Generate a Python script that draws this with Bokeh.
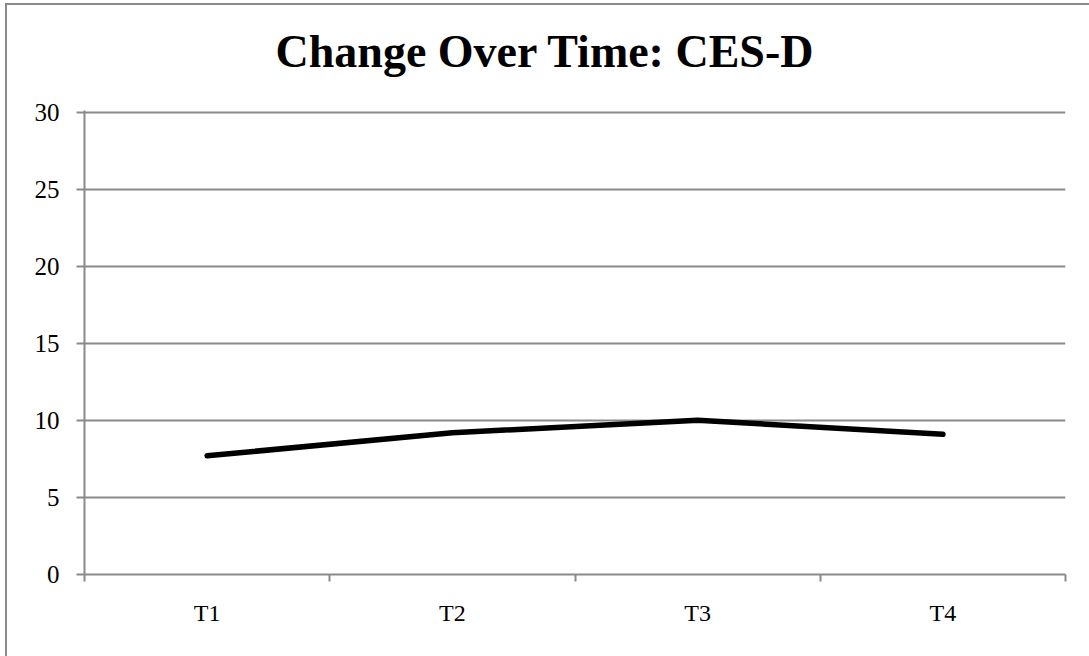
from bokeh.plotting import figure
from bokeh.models import FixedTicker, Range1d, Title
from bokeh.embed import file_html
from bokeh.resources import INLINE

# CES-D mean scores at each time point
categories = ["T1", "T2", "T3", "T4"]
scores = [7.7, 9.2, 10.0, 9.1]
y_ticks = [0, 5, 10, 15, 20, 25, 30]
chart_title = "Change Over Time: CES-D"

positions = [i + 1 for i in range(len(categories))]
grey = "#8a8a8a"
serif = "Liberation Serif"

p = figure(
    width=1084, height=653,
    output_backend="svg", toolbar_location=None,
    x_range=Range1d(0.5, len(categories) + 0.5),
    y_range=Range1d(0, 30.1),
    min_border_left=77, min_border_right=26,
    min_border_top=105, min_border_bottom=84,
)
p.margin = (3, 0, 0, 5)
p.styles = {"border-left": f"2px solid {grey}", "border-top": f"2px solid {grey}"}
p.outline_line_color = None
p.background_fill_color = "white"
p.border_fill_color = "white"

# heading centred on the whole chart rather than on the plot frame
p.title = Title(text=chart_title, align="left", offset=191,
                text_font=serif, text_font_size="46px", text_font_style="bold",
                text_color="black", standoff=0)
# blank strip between the heading and the plot frame
p.add_layout(Title(text=" ", text_font_size="10px", standoff=21), "above")

p.line(positions, scores, line_color="black", line_width=5.5, line_cap="round", line_join="round")

# y axis
p.yaxis.ticker = FixedTicker(ticks=y_ticks)
p.yaxis.axis_line_color = grey
p.yaxis.axis_line_width = 2
p.yaxis.major_tick_line_color = grey
p.yaxis.major_tick_line_width = 2
p.yaxis.major_tick_out = 8
p.yaxis.major_tick_in = 0
p.yaxis.minor_tick_line_color = None
p.yaxis.major_label_text_font = serif
p.yaxis.major_label_text_font_size = "25px"
p.yaxis.major_label_text_color = "black"
p.yaxis.major_label_standoff = 17

# x axis: labels at category centres, ticks at category boundaries
p.xaxis.ticker = FixedTicker(ticks=positions,
                             minor_ticks=[i + 0.5 for i in range(len(categories) + 1)])
p.xaxis.major_label_overrides = {pos: cat for pos, cat in zip(positions, categories)}
p.xaxis.axis_line_color = grey
p.xaxis.axis_line_width = 2
p.xaxis.major_tick_line_color = None
p.xaxis.minor_tick_line_color = grey
p.xaxis.minor_tick_line_width = 2
p.xaxis.minor_tick_out = 7
p.xaxis.minor_tick_in = 0
p.xaxis.major_label_text_font = serif
p.xaxis.major_label_text_font_size = "24px"
p.xaxis.major_label_text_color = "black"
p.xaxis.major_label_standoff = 18

p.xgrid.grid_line_color = None
p.ygrid.grid_line_color = grey
p.ygrid.grid_line_width = 2

open("out.html", "w").write(file_html(p, INLINE))
